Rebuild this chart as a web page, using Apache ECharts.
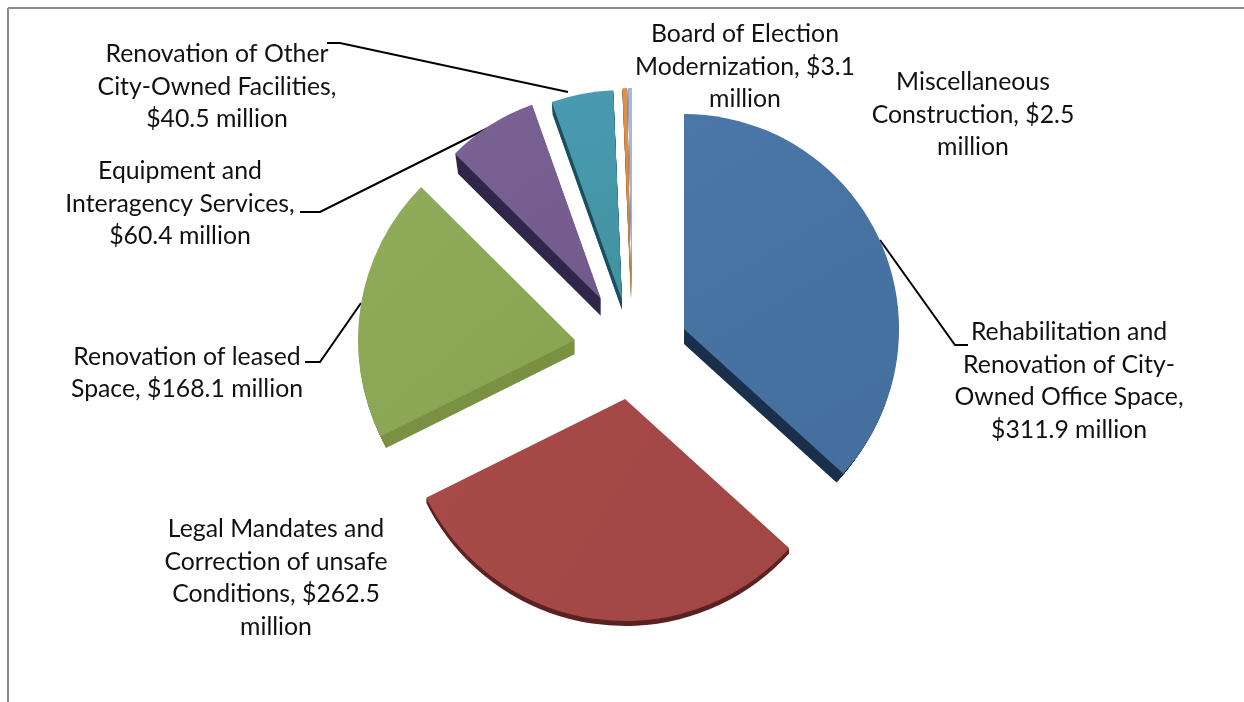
<!DOCTYPE html>
<html>
<head>
<meta charset="utf-8">
<style>
  html, body { margin: 0; padding: 0; background: #fff; }
  #chart { width: 1244px; height: 702px; }
</style>
<script src="https://cdn.jsdelivr.net/npm/echarts@6/dist/echarts.min.js"></script>
</head>
<body>
<div id="chart"></div>
<script>
// Data
const categories = [
  'Rehabilitation and\nRenovation of City-\nOwned Office Space,\n$311.9 million',
  'Legal Mandates and\nCorrection of unsafe\nConditions, $262.5\nmillion',
  'Renovation of leased\nSpace, $168.1 million',
  'Equipment and\nInteragency Services,\n$60.4 million',
  'Renovation of Other\nCity-Owned Facilities,\n$40.5 million',
  'Board of Election\nModernization, $3.1\nmillion',
  'Miscellaneous\nConstruction, $2.5\nmillion'
];
const values = [311.9, 262.5, 168.1, 60.4, 40.5, 3.1, 2.5];

// Look of each slice
const topLight = ['#4a77a8', '#a84b49', '#90ab59', '#7a6295', '#4a9bb3', '#e08f45', '#a5bae0'];
const topDark = ['#436e9d', '#a04644', '#88a452', '#725a8c', '#42929f', '#d98538', '#98aed6'];
const sideColors = ['#1a2f4a', '#5c2222', '#7a9143', '#31264a', '#1b505e', '#8a5a28', '#5f7394'];

// Exploded slice placement: apex x, apex y, radius
const apexes = [[684, 329, 215], [625, 399, 222], [575, 340, 217], [601, 299, 206], [622, 300, 210], [631, 296, 208], [632, 296, 208]];
// Side wall: drop, radius shrink
const walls = [[15, 9], [5, 0], [14, 6], [17, 4], [10, 2], [3, 0], [3, 0]];

// Label centres and leader points
const labelCentres = [[1069, 381], [276, 578], [187, 373], [180, 204], [217, 87], [745, 67], [973, 115]];
const leaderPoints = [
  [[880, 240], [955, 345], [968, 345]],
  null,
  [[361, 303], [320, 362], [305, 362]],
  [[490, 127], [320, 212], [300, 212]],
  [[568, 92], [340, 43], [327, 43]],
  null,
  null
];

const FONT = 'Lato';
const hidden = { itemStyle: { color: 'rgba(0,0,0,0)' }, label: { show: false }, labelLine: { show: false } };

const sliceSeries = (idx, centre, radius, color, withLabel) => {
  const series = {
    type: 'pie',
    silent: true,
    animation: false,
    startAngle: 90,
    clockwise: true,
    avoidLabelOverlap: false,
    center: centre,
    radius: [0, radius],
    data: values.map((value, i) => {
      if (i !== idx) return { name: categories[i], value, ...hidden };
      return {
        name: categories[i],
        value,
        itemStyle: { color },
        label: {
          show: withLabel,
          formatter: '{b}',
          fontFamily: FONT,
          fontSize: 24.8,
          lineHeight: 32.5,
          color: '#111',
          align: 'center',
          verticalAlign: 'middle'
        },
        labelLine: {
          show: withLabel && !!leaderPoints[idx],
          lineStyle: { color: '#000', width: 2 }
        }
      };
    })
  };
  if (withLabel) {
    series.labelLayout = {
      x: labelCentres[idx][0],
      y: labelCentres[idx][1],
      align: 'center',
      verticalAlign: 'middle',
      ...(leaderPoints[idx] ? { labelLinePoints: leaderPoints[idx] } : {})
    };
  }
  return series;
};

const series = [];
// side walls, stacked so the drop is filled in
values.forEach((v, i) => {
  const [x, y, r] = apexes[i];
  const [drop, shrink] = walls[i];
  for (let d = drop; d > 0; d -= 1) {
    series.push(sliceSeries(i, [x, y + d], r - (shrink * d) / drop, sideColors[i], false));
  }
});
values.forEach((v, i) => {
  const [x, y, r] = apexes[i];
  const fill = new echarts.graphic.LinearGradient(0, 0, 1, 1, [
    { offset: 0, color: topLight[i] },
    { offset: 1, color: topDark[i] }
  ]);
  series.push(sliceSeries(i, [x, y], r, fill, true));
});

const chart = echarts.init(document.getElementById('chart'), null, { renderer: 'canvas' });
chart.setOption({
  backgroundColor: '#fff',
  animation: false,
  graphic: [
    { type: 'line', shape: { x1: 8, y1: 8, x2: 1244, y2: 8 }, style: { stroke: '#8c8c8c', lineWidth: 2 } },
    { type: 'line', shape: { x1: 8, y1: 8, x2: 8, y2: 702 }, style: { stroke: '#8c8c8c', lineWidth: 2 } }
  ],
  series
});
</script>
</body>
</html>
